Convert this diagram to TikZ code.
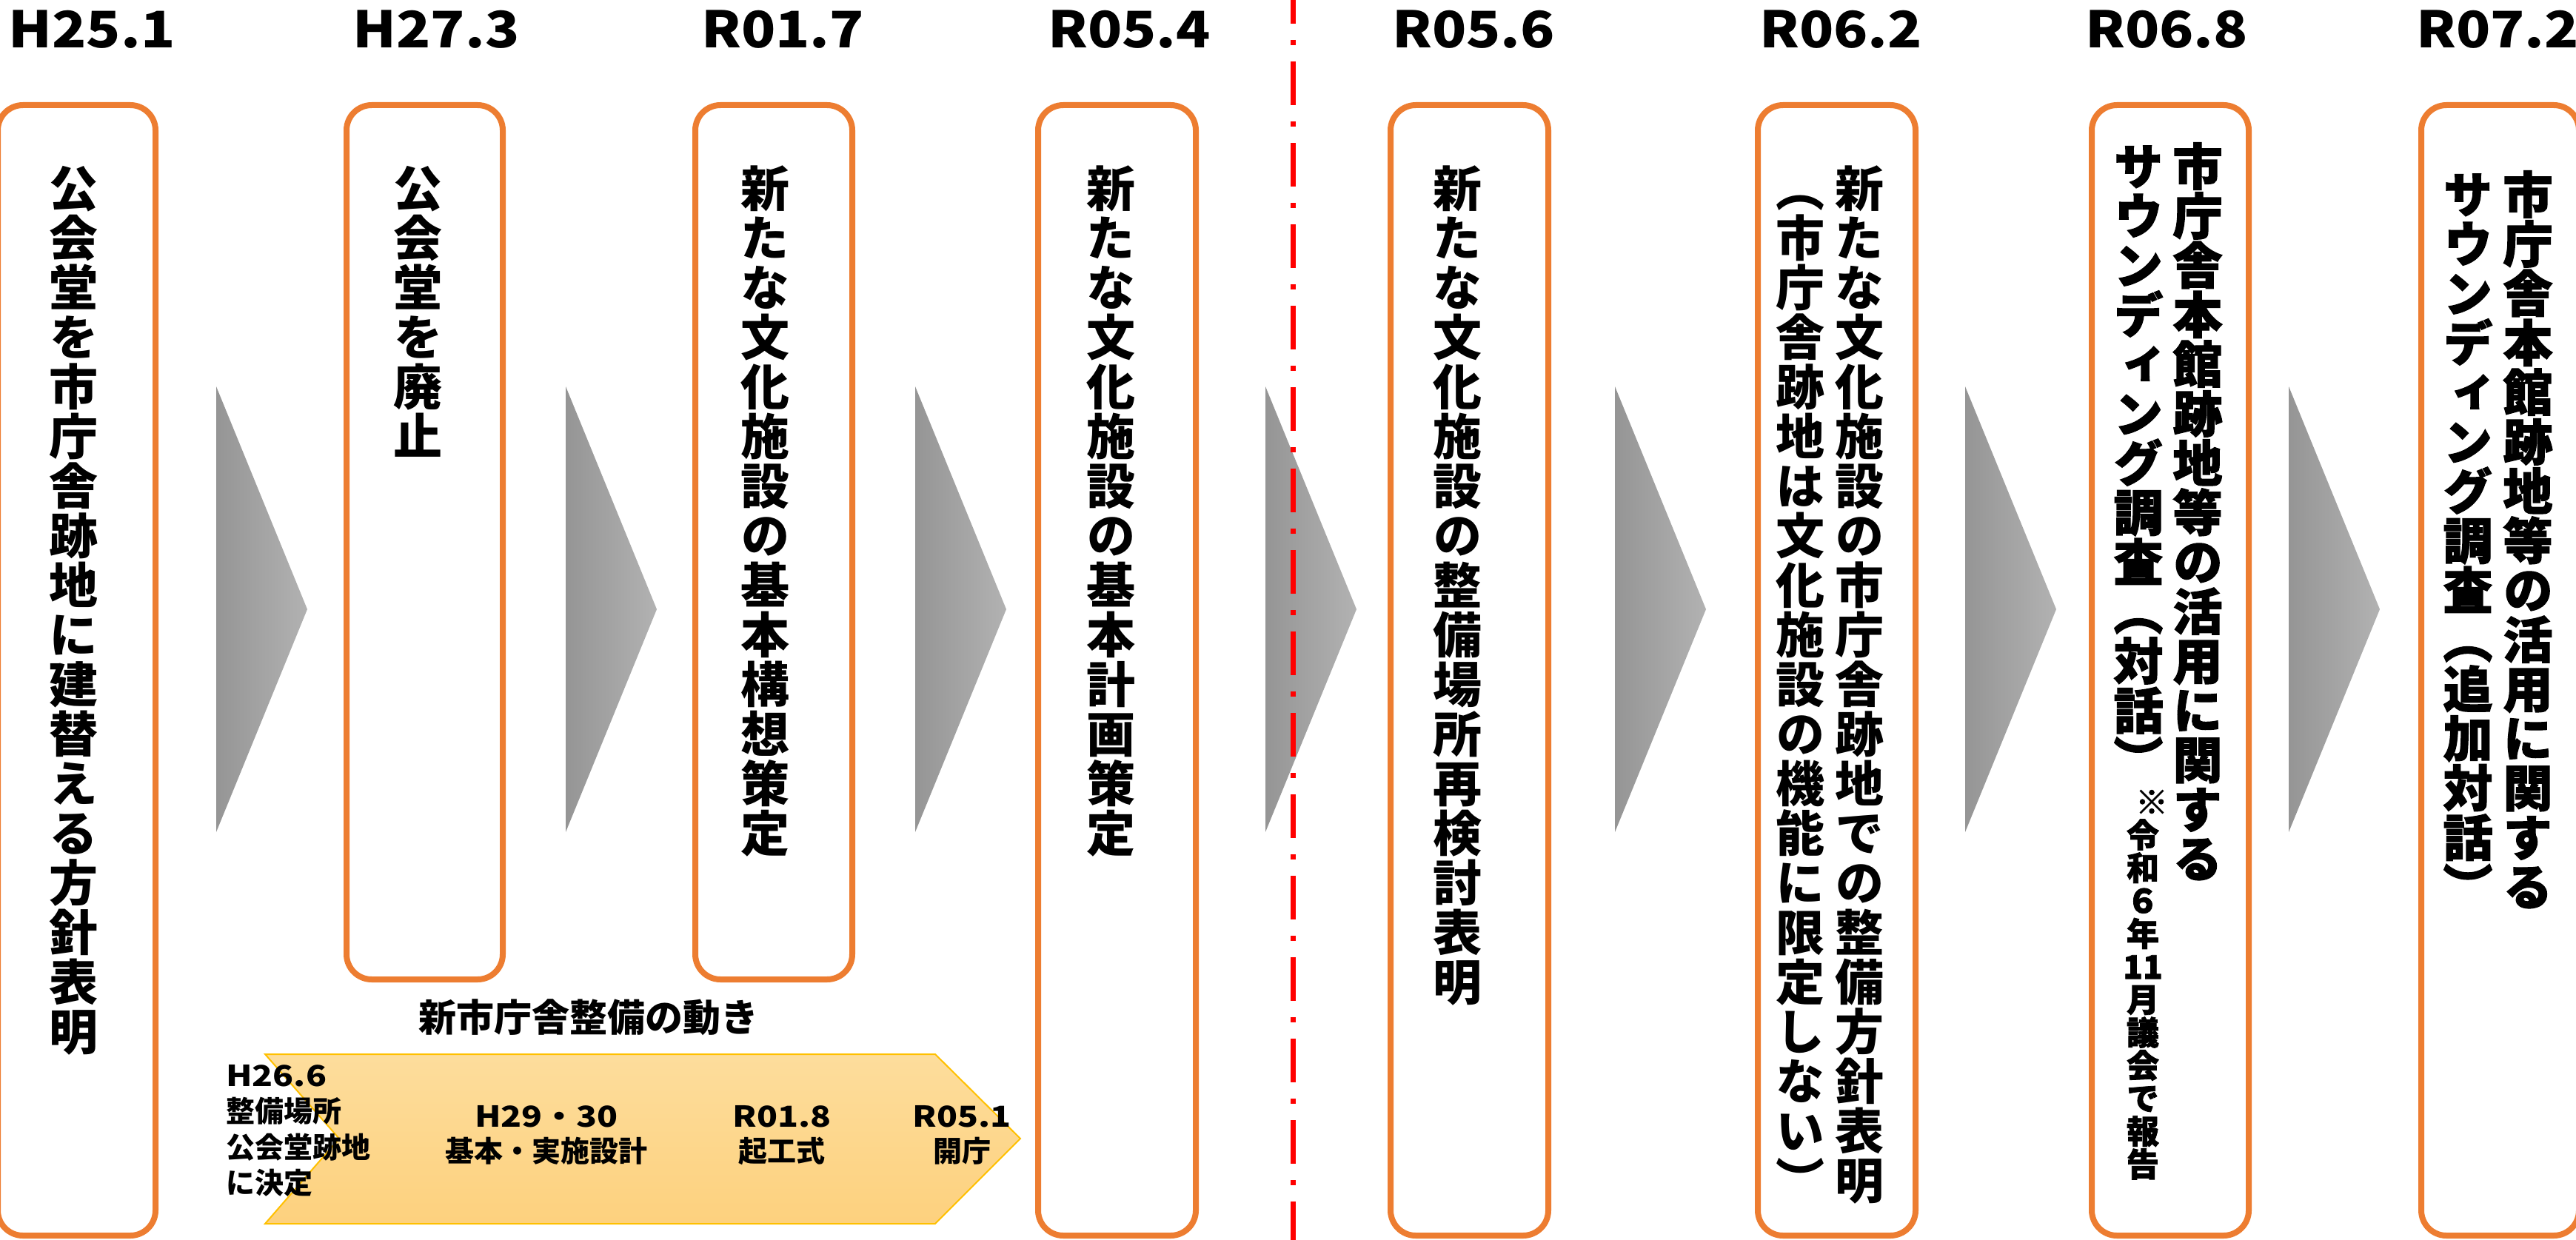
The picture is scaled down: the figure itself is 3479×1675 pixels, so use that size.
\documentclass[tikz,border=0pt]{standalone}
\usepackage{fontspec}
\usepackage{graphicx}
\setmainfont{Noto Sans CJK JP}
\newfontfamily\jpv{Noto Sans CJK JP}[RawFeature=+vert]
\newfontfamily\jph{Noto Sans CJK JP}[RawFeature=+vert,FakeBold=1.8]
\definecolor{boxorange}{HTML}{ED7D31}
\definecolor{arrL}{HTML}{959595}
\definecolor{arrR}{HTML}{B2B2B2}
\definecolor{chevT}{HTML}{FDDD9C}
\definecolor{chevB}{HTML}{FDD17E}
\definecolor{chevE}{HTML}{FFC000}
\definecolor{sepred}{HTML}{FF0000}
\newdimen\tpitch
\def\tcolA#1{\ifx\relax#1\else\hbox to 1em{\hss\vrule width 0pt height 0.88em depth 0.12em\relax #1\hss}\expandafter\tcolA\fi}
\newcommand\tcol[2]{\vbox{\tpitch=#1\relax\baselineskip=\tpitch\lineskiplimit=-1000pt\lineskip=0pt\tcolA#2\relax}}
\newcommand\latw[1]{\scalebox{1.12}[1]{#1}}
\newcommand\latc[1]{\scalebox{1.18}[1]{#1}}
\begin{document}
\begin{tikzpicture}[x=1pt,y=-1pt,
  evbox/.style={draw=boxorange, line width=8pt, rounded corners=34pt, fill=white, inner sep=0pt},
  datelbl/.style={anchor=base, inner sep=0pt, text height=52pt, text depth=2pt, font=\bfseries\fontsize{68}{68}\selectfont},
  colnode/.style={anchor=north, inner sep=0pt, outer sep=0pt, font=\jpv\bfseries\fontsize{66}{66}\selectfont},
  heavycol/.style={anchor=north, inner sep=0pt, outer sep=0pt, font=\jph\bfseries\fontsize{67}{67}\selectfont},
  notecol/.style={anchor=north, inner sep=0pt, outer sep=0pt, font=\jph\bfseries\fontsize{44}{44}\selectfont},
  chevtxt/.style={anchor=base, inner sep=0pt, font=\bfseries\fontsize{39}{39}\selectfont},
  chevtxtl/.style={anchor=base west, inner sep=0pt, font=\bfseries\fontsize{39}{39}\selectfont},
  titletxt/.style={anchor=base, inner sep=0pt, font=\bfseries\fontsize{51}{51}\selectfont}
]
\useasboundingbox (0,0) rectangle (3479,1675);
\fill[white] (0,0) rectangle (3479,1675);

% event boxes
\node[evbox, minimum width=213pt, minimum height=1527pt] (b1) at (103.5,905.5) {};
\node[evbox, minimum width=211pt, minimum height=1181pt] (b2) at (573.5,732.5) {};
\node[evbox, minimum width=212pt, minimum height=1181pt] (b3) at (1045,732.5) {};
\node[evbox, minimum width=213pt, minimum height=1527pt] (b4) at (1508.5,905.5) {};
\node[evbox, minimum width=213pt, minimum height=1527pt] (b5) at (1984.5,905.5) {};
\node[evbox, minimum width=213pt, minimum height=1527pt] (b6) at (2480.5,905.5) {};
\node[evbox, minimum width=212pt, minimum height=1527pt] (b7) at (2931,905.5) {};
\node[evbox, minimum width=213pt, minimum height=1527pt] (b8) at (3376.5,905.5) {};

% gray arrows
\foreach \ax in {292,764,1236,1709,2181,2654,3091}{
  \shade[left color=arrL, right color=arrR] (\ax,522) -- (\ax+123,823) -- (\ax,1124) -- cycle;
}

% red separator
\draw[sepred, line width=7pt, dash pattern=on 59pt off 22pt on 7pt off 22pt, dash phase=27pt] (1746,0) -- (1746,1675);

% yellow chevron
\shadedraw[top color=chevT, bottom color=chevB, draw=chevE, line width=2pt]
  (358,1424) -- (1263,1424) -- (1378,1538) -- (1263,1653) -- (358,1653) -- (458,1538) -- cycle;

% date labels
\node[datelbl] (d1) at (124,65) {\latw{H25.1}};
\node[datelbl] (d2) at (589,65) {\latw{H27.3}};
\node[datelbl] (d3) at (1057,65) {\latw{R01.7}};
\node[datelbl] (d4) at (1525,65) {\latw{R05.4}};
\node[datelbl] (d5) at (1990,65) {\latw{R05.6}};
\node[datelbl] (d6) at (2486,65) {\latw{R06.2}};
\node[datelbl] (d7) at (2926,65) {\latw{R06.8}};
\node[datelbl] (d8) at (3373,65) {\latw{R07.2}};

% vertical texts
\node[colnode] (t1) at (99,221) {\tcol{67pt}{公会堂を市庁舎跡地に建替える方針表明}};
\node[colnode] (t2) at (564,221) {\tcol{67pt}{公会堂を廃止}};
\node[colnode] (t3) at (1033,221) {\tcol{67pt}{新たな文化施設の基本構想策定}};
\node[colnode] (t4) at (1500,221) {\tcol{67pt}{新たな文化施設の基本計画策定}};
\node[colnode] (t5) at (1968,221) {\tcol{67pt}{新たな文化施設の整備場所再検討表明}};
\node[colnode] (t6r) at (2511,221) {\tcol{67pt}{新たな文化施設の市庁舎跡地での整備方針表明}};
\node[colnode] (t6l) at (2431,221) {\tcol{67pt}{（市庁舎跡地は文化施設の機能に限定しない）}};
\node[heavycol] (t7r) at (2968,191) {\tcol{66.8pt}{市庁舎本館跡地等の活用に関する}};
\node[heavycol] (t7l) at (2888,191) {\tcol{66.8pt}{サウンディング調査（対話）}};
\node[notecol] (t7n) at (2894,1061) {\tcol{44.5pt}{{\kern24pt ※}令和６年{11}月議会で報告}};
\node[heavycol] (t8r) at (3414,229) {\tcol{66.8pt}{市庁舎本館跡地等の活用に関する}};
\node[heavycol] (t8l) at (3333,229) {\tcol{66.8pt}{サウンディング調査（追加対話）}};

% new city hall movement
\node[titletxt] (title) at (795,1393) {新市庁舎整備の動き};
\node[chevtxtl] (c1a) at (305,1467) {\latc{H26.6}};
\node[chevtxtl] (c1b) at (305,1515) {整備場所};
\node[chevtxtl] (c1c) at (305,1564) {公会堂跡地};
\node[chevtxtl] (c1d) at (305,1612) {に決定};
\node[chevtxt] (c2a) at (738,1522) {\latc{H29・30}};
\node[chevtxt] (c2b) at (738,1569) {基本・実施設計};
\node[chevtxt] (c3a) at (1056,1522) {\latc{R01.8}};
\node[chevtxt] (c3b) at (1056,1569) {起工式};
\node[chevtxt] (c4a) at (1299,1522) {\latc{R05.1}};
\node[chevtxt] (c4b) at (1299,1569) {開庁};
\end{tikzpicture}
\end{document}
